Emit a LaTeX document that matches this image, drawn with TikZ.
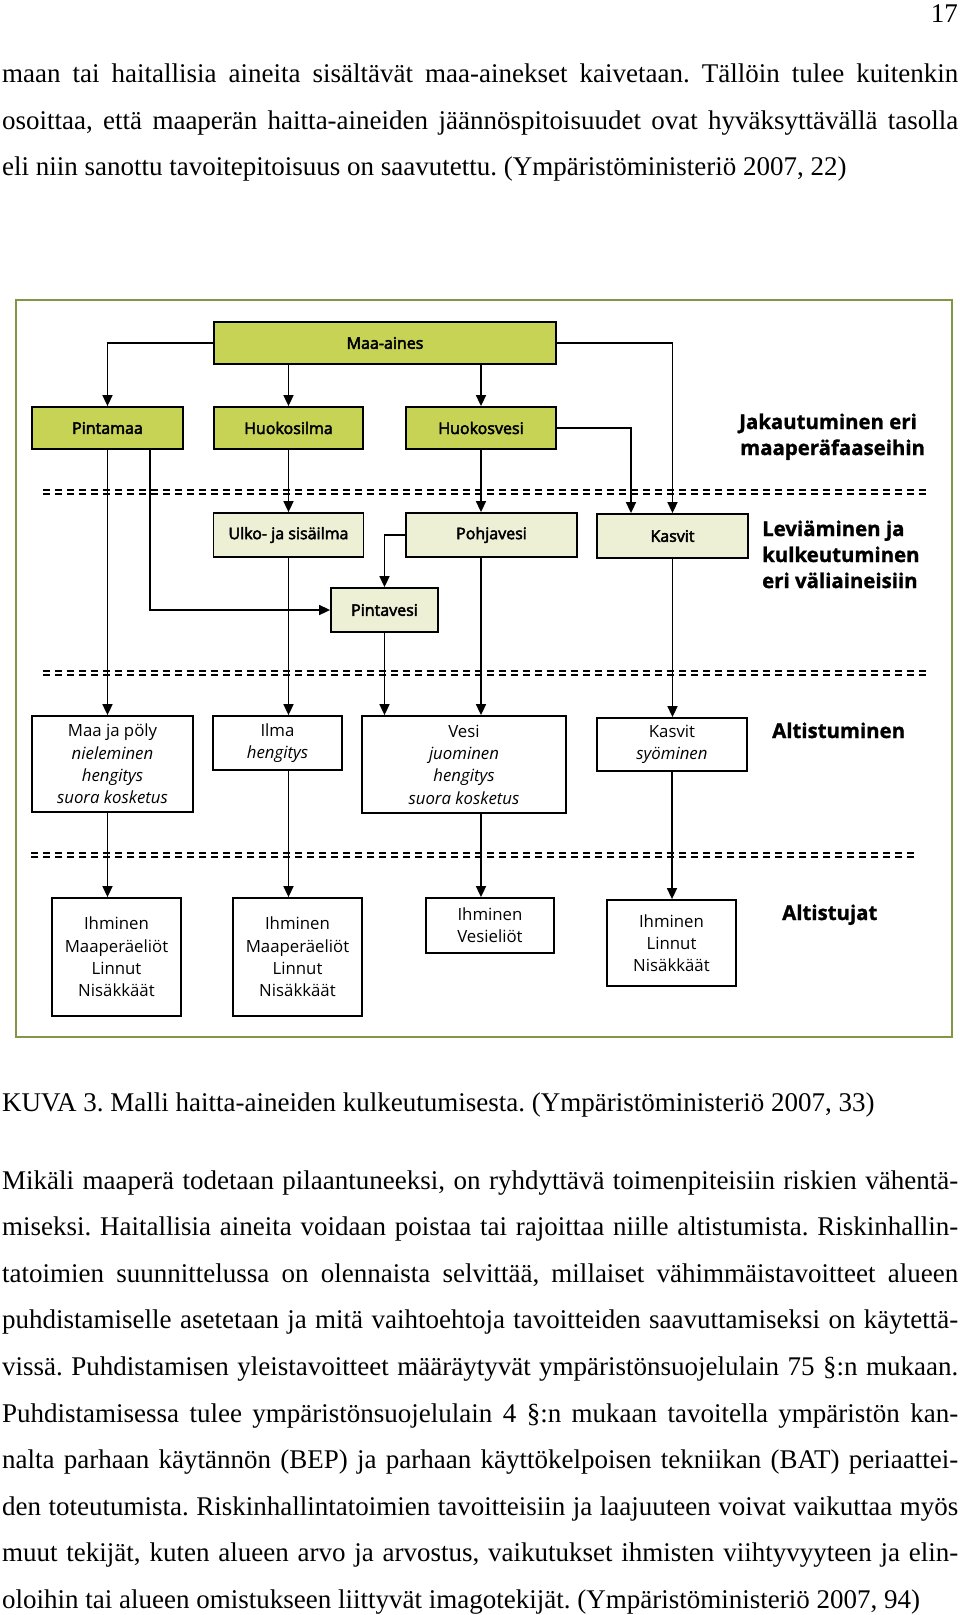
\documentclass[tikz,border=0pt]{standalone}
\usepackage{fontspec}
\setmainfont{Liberation Serif}
\newfontfamily\dia[BoldFeatures={FakeBold=1.2}]{Open Sans}
\newfontfamily\diasemi[FakeBold=3]{Open Sans}
\usetikzlibrary{arrows.meta}
\definecolor{topgreen}{RGB}{198,211,84}
\definecolor{palegreen}{RGB}{238,240,214}
\definecolor{framegreen}{RGB}{130,150,70}
\frenchspacing
\begin{document}
\begin{tikzpicture}[x=1pt,y=-1pt,
  body/.style={inner sep=0pt, anchor=base west, font=\frenchspacing\fontsize{27}{32}\selectfont},
  boxbase/.style={draw=black, line width=1.8pt, inner sep=0pt, align=center},
  gbox/.style={boxbase, fill=topgreen, font=\diasemi\fontsize{16}{20}\selectfont},
  lbox/.style={boxbase, fill=palegreen, font=\diasemi\fontsize{16}{20}\selectfont},
  wbox/.style={boxbase, fill=white, font=\dia\fontsize{16.8}{22.3}\selectfont},
  head/.style={inner sep=0pt, anchor=base west, font=\dia\bfseries\fontsize{20.4}{26}\selectfont},
  arr/.style={-{Triangle[length=11pt,width=10pt]}, line width=1.6pt},
  sepline/.style={line width=2.1pt, dash pattern=on 7pt off 5pt}]
\useasboundingbox (0,0) rectangle (960,1615);
\fill[white] (0,0) rectangle (960,1615);

% page text
\node[body, anchor=base east] (pg) at (958,22) {17};
\node[body] (t1) at (2,82) {\makebox[956pt][s]{maan tai haitallisia aineita sisältävät maa-ainekset kaivetaan. Tällöin tulee kuitenkin}};
\node[body] (t2) at (2,129) {\makebox[956pt][s]{osoittaa, että maaperän haitta-aineiden jäännöspitoisuudet ovat hyväksyttävällä tasolla}};
\node[body] (t3) at (2,175) {eli niin sanottu tavoitepitoisuus on saavutettu. (Ympäristöministeriö 2007, 22)};

\node[body] (cap) at (2,1111) {KUVA 3. Malli haitta-aineiden kulkeutumisesta. (Ympäristöministeriö 2007, 33)};

\node[body] (p1) at (2,1189) {\makebox[956pt][s]{Mikäli maaperä todetaan pilaantuneeksi, on ryhdyttävä toimenpiteisiin riskien vähentä-}};
\node[body] (p2) at (2,1235.6) {\makebox[956pt][s]{miseksi. Haitallisia aineita voidaan poistaa tai rajoittaa niille altistumista. Riskinhallin-}};
\node[body] (p3) at (2,1282.2) {\makebox[956pt][s]{tatoimien suunnittelussa on olennaista selvittää, millaiset vähimmäistavoitteet alueen}};
\node[body] (p4) at (2,1328.8) {\makebox[956pt][s]{puhdistamiselle asetetaan ja mitä vaihtoehtoja tavoitteiden saavuttamiseksi on käytettä-}};
\node[body] (p5) at (2,1375.4) {\makebox[956pt][s]{vissä. Puhdistamisen yleistavoitteet määräytyvät ympäristönsuojelulain 75 §:n mukaan.}};
\node[body] (p6) at (2,1422) {\makebox[956pt][s]{Puhdistamisessa tulee ympäristönsuojelulain 4 §:n mukaan tavoitella ympäristön kan-}};
\node[body] (p7) at (2,1468.6) {\makebox[956pt][s]{nalta parhaan käytännön (BEP) ja parhaan käyttökelpoisen tekniikan (BAT) periaattei-}};
\node[body] (p8) at (2,1515.2) {\makebox[956pt][s]{den toteutumista. Riskinhallintatoimien tavoitteisiin ja laajuuteen voivat vaikuttaa myös}};
\node[body] (p9) at (2,1561.8) {\makebox[956pt][s]{muut tekijät, kuten alueen arvo ja arvostus, vaikutukset ihmisten viihtyvyyteen ja elin-}};
\node[body] (p10) at (2,1608.4) {oloihin tai alueen omistukseen liittyvät imagotekijät. (Ympäristöministeriö 2007, 94)};

% figure frame
\draw[framegreen, line width=2pt] (16,300) rectangle (952,1037);

% separators
\foreach \yy/\xa/\xb in {492/43/930, 673/43/930, 855/31/917} {
  \draw[sepline] (\xa,\yy-2.3) -- (\xb,\yy-2.3);
  \draw[sepline] (\xa,\yy+2.3) -- (\xb,\yy+2.3);
}

% boxes
\node[gbox, minimum width=342pt, minimum height=42pt] (maa) at (385,343) {Maa-aines};
\node[gbox, minimum width=151pt, minimum height=42pt] (pinta) at (107.5,428) {Pintamaa};
\node[gbox, minimum width=149pt, minimum height=42pt] (hilma) at (288.5,428) {Huokosilma};
\node[gbox, minimum width=150pt, minimum height=42pt] (hvesi) at (481,428) {Huokosvesi};

\node[lbox, minimum width=150pt, minimum height=44pt] (ulko) at (288.5,535) {Ulko- ja sisäilma};
\node[lbox, minimum width=171pt, minimum height=44pt] (pohja) at (491.5,535) {Pohjavesi};
\node[lbox, minimum width=151pt, minimum height=44pt] (kasvit1) at (672.5,536) {Kasvit};
\node[lbox, minimum width=107pt, minimum height=44pt] (pintavesi) at (384.5,610) {Pintavesi};

\node[wbox, minimum width=161pt, minimum height=96pt] (maapoly) at (112.5,764) {Maa ja pöly\\\itshape nieleminen\\\itshape hengitys\\\itshape suora kosketus};
\node[wbox, minimum width=129pt, minimum height=54pt] (ilma) at (277.5,743) {Ilma\\\itshape hengitys};
\node[wbox, minimum width=204pt, minimum height=97pt] (vesi) at (464,764.5) {Vesi\\\itshape juominen\\\itshape hengitys\\\itshape suora kosketus};
\node[wbox, minimum width=150pt, minimum height=53pt] (kasvit2) at (672,744.5) {Kasvit\\\itshape syöminen};

\node[wbox, minimum width=129pt, minimum height=118pt] (a1) at (116.5,957) {Ihminen\\Maaperäeliöt\\Linnut\\Nisäkkäät};
\node[wbox, minimum width=129pt, minimum height=118pt] (a2) at (297.5,957) {Ihminen\\Maaperäeliöt\\Linnut\\Nisäkkäät};
\node[wbox, minimum width=128pt, minimum height=55pt] (a3) at (490,925.5) {Ihminen\\Vesieliöt};
\node[wbox, minimum width=129pt, minimum height=86pt] (a4) at (671.5,943) {Ihminen\\Linnut\\Nisäkkäät};

% headings
\node[head] (h1a) at (739,429) {Jakautuminen eri};
\node[head] (h1b) at (740,455) {maaperäfaaseihin};
\node[head] (h2a) at (762,536) {Leviäminen ja};
\node[head] (h2b) at (762,562) {kulkeutuminen};
\node[head] (h2c) at (762,588) {eri väliaineisiin};
\node[head] (h3) at (772,738) {Altistuminen};
\node[head] (h4) at (782,920) {Altistujat};

% connectors
\draw[arr] (maa.west) -| (pinta.north);
\draw[arr] (hilma.north |- maa.south) -- (hilma.north);
\draw[arr] (hvesi.north |- maa.south) -- (hvesi.north);
\draw[arr] (maa.east) -| (kasvit1.north);
\draw[arr] (hvesi.east) -| ([xshift=-41.5pt]kasvit1.north);
\draw[arr] (pinta.south) -- (pinta.south |- maapoly.north);
\draw[arr] ([xshift=42.5pt]pinta.south) |- (pintavesi.west);
\draw[arr] (hilma.south) -- (hilma.south |- ulko.north);
\draw[arr] (ulko.south) -- (ulko.south |- ilma.north);
\draw[arr] (ilma.south -| ulko.south) -- (ulko.south |- a2.north);
\draw[arr] (hvesi.south) -- (hvesi.south |- pohja.north);
\draw[arr] (pohja.west) -| (pintavesi.north);
\draw[arr] (pintavesi.south) -- (pintavesi.south |- vesi.north);
\draw[arr] (pohja.south -| hvesi.south) -- (hvesi.south |- vesi.north);
\draw[arr] (vesi.south -| hvesi.south) -- (hvesi.south |- a3.north);
\draw[arr] (kasvit1.south) -- (kasvit1.south |- kasvit2.north);
\draw[arr] (kasvit2.south) -- (kasvit2.south |- a4.north);
\draw[arr] (maapoly.south -| pinta.south) -- (pinta.south |- a1.north);
\end{tikzpicture}
\end{document}
